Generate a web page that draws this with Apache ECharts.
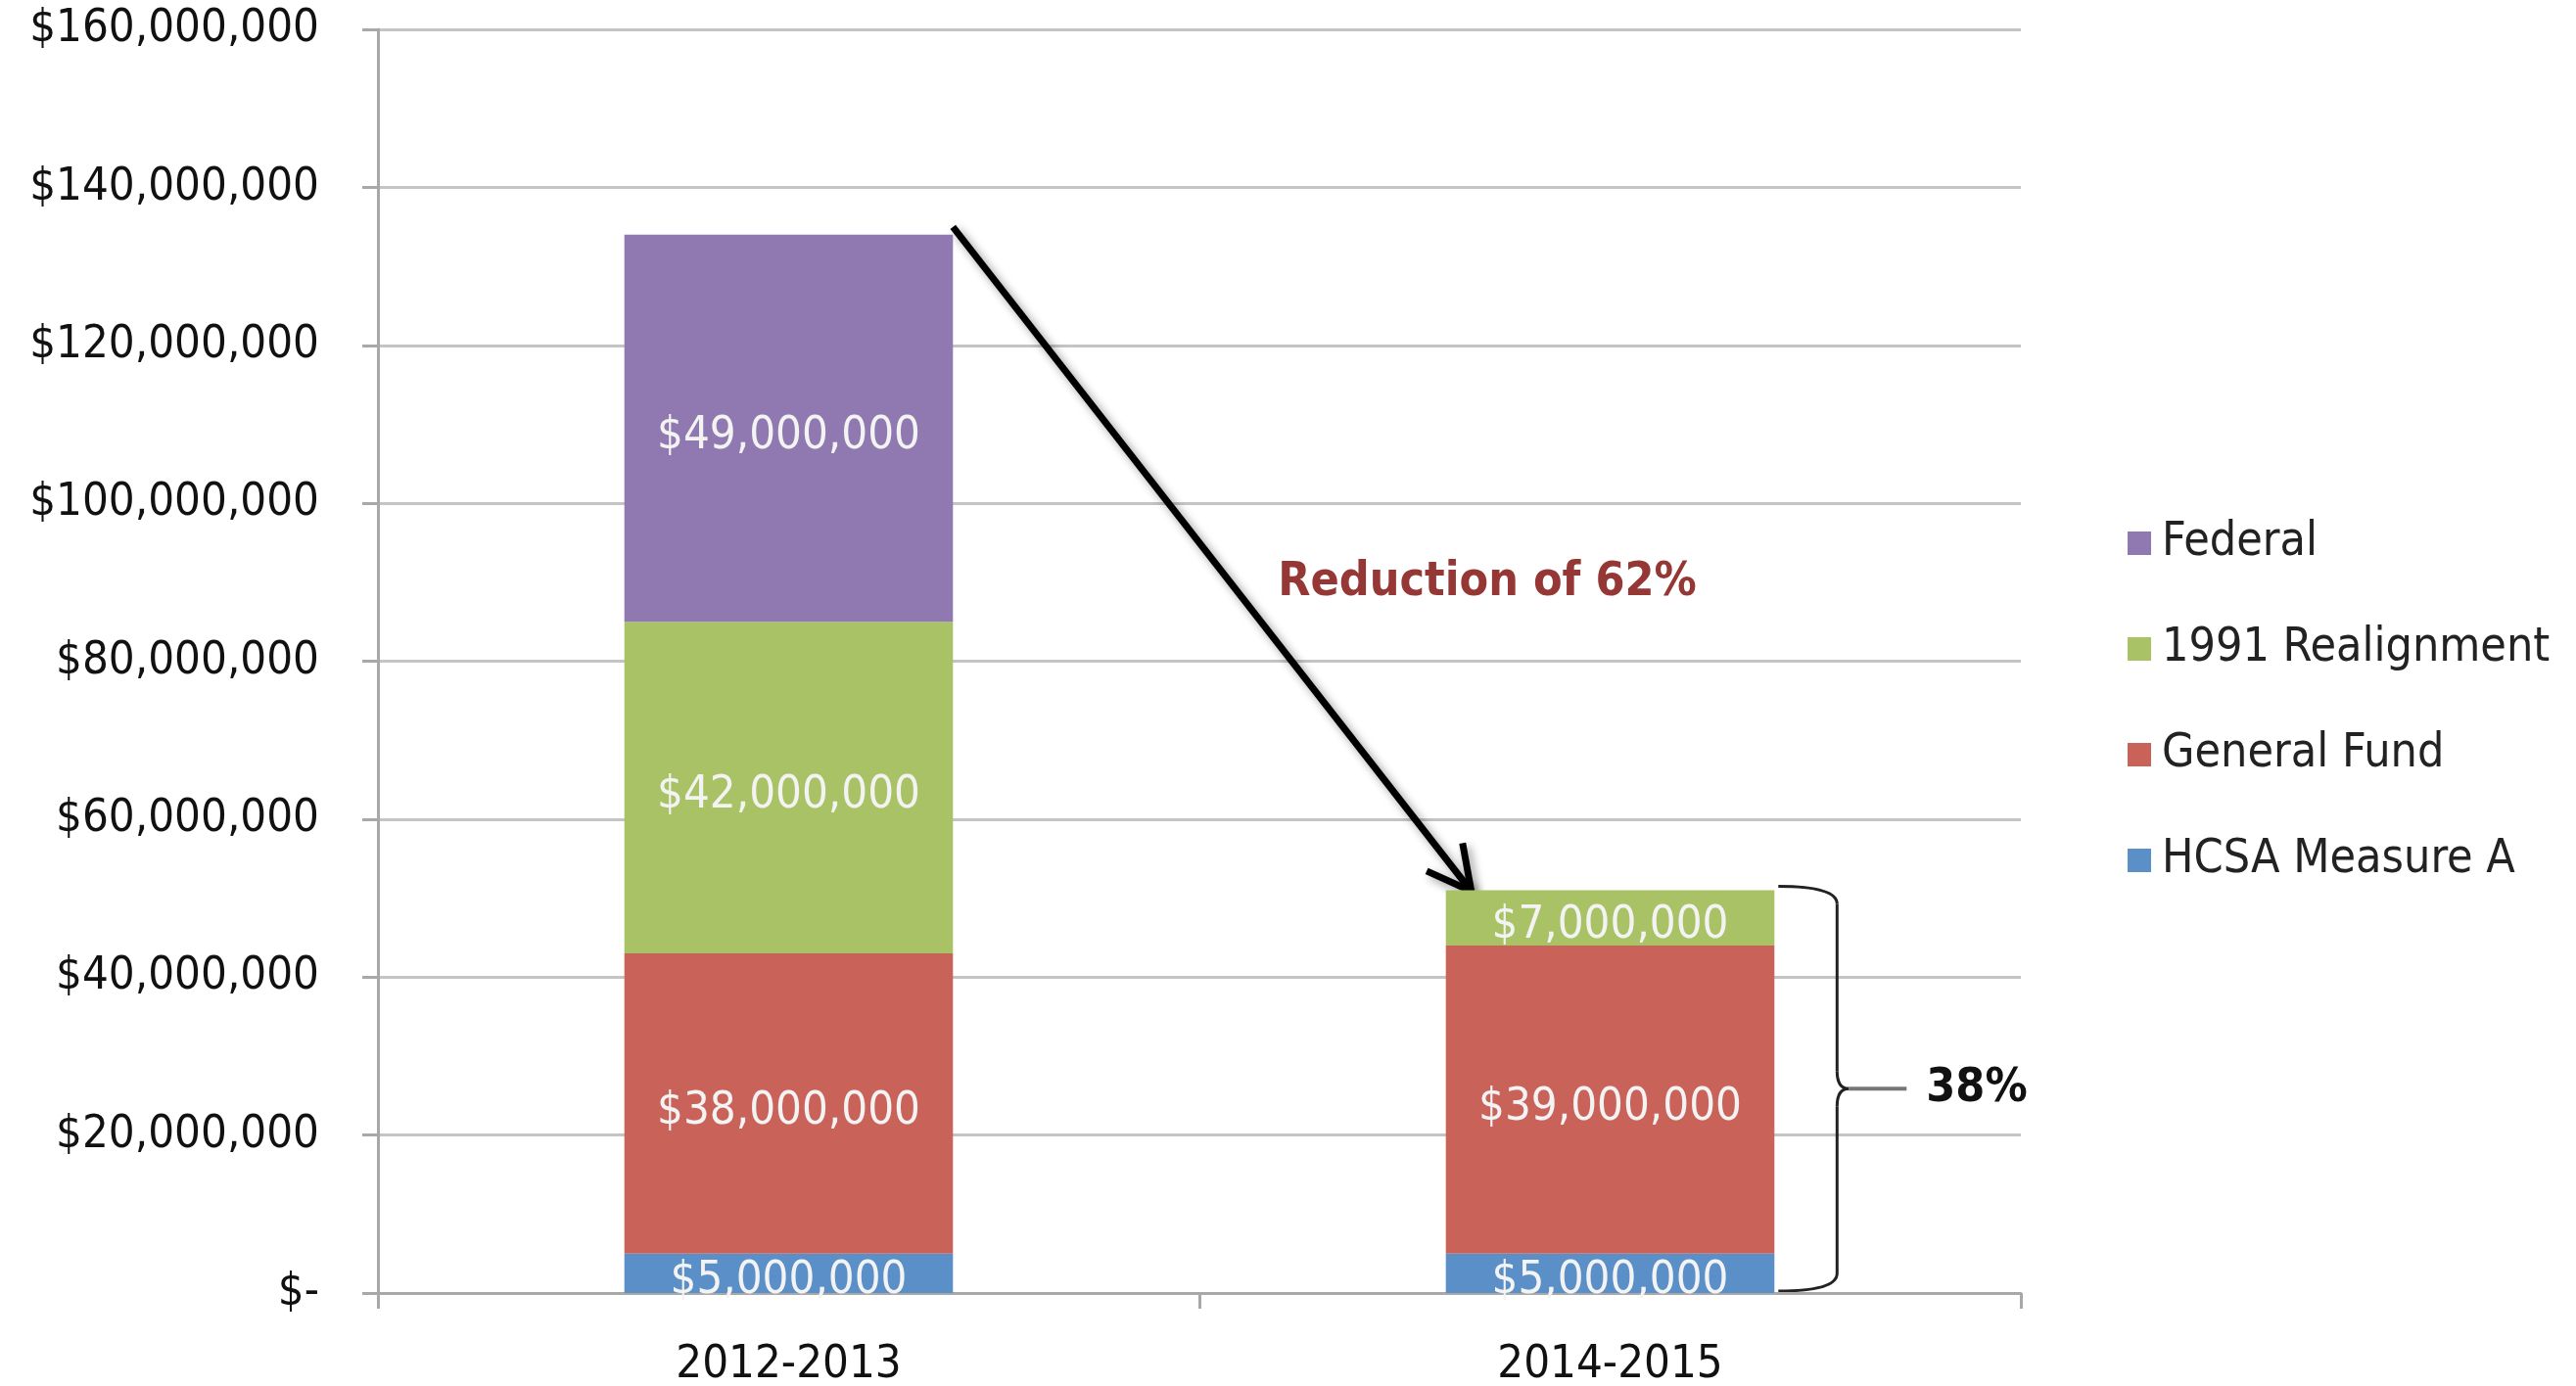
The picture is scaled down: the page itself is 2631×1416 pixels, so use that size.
<!DOCTYPE html>
<html>
<head>
<meta charset="utf-8">
<script src="https://cdn.jsdelivr.net/npm/echarts@6/dist/echarts.min.js"></script>
<style>
  html, body { margin: 0; padding: 0; background: #fff; }
  #chart { width: 2631px; height: 1416px; }
</style>
</head>
<body>
<div id="chart"></div>
<script>
var categories = ['2012-2013', '2014-2015'];
var hcsaMeasureA = [5000000, 5000000];
var generalFund = [38000000, 39000000];
var realignment1991 = [42000000, 7000000];
var federal = [49000000, '-'];
var legendOrder = ['Federal', '1991 Realignment', 'General Fund', 'HCSA Measure A'];

var FONT = "'DejaVu Sans Condensed', 'DejaVu Sans', sans-serif";

function money(v) {
    if (v === 0) return '$-';
    return '$' + Number(v).toLocaleString('en-US');
}

var chart = echarts.init(document.getElementById('chart'));

function barSeries(name, data, color) {
    return {
        name: name,
        type: 'bar',
        stack: 'total',
        barWidth: '40%',
        data: data,
        itemStyle: { color: color },
        label: {
            show: true,
            position: 'inside',
            offset: [0, 8],
            color: '#f3f3f3',
            fontFamily: FONT,
            fontSize: 47,
            formatter: function(p) { return money(p.value); }
        }
    };
}

var option = {
    animation: false,
    backgroundColor: '#ffffff',
    grid: { left: 386, right: 567, top: 30, bottom: 95, outerBoundsMode: 'none', containLabel: false },
    legend: {
        orient: 'vertical',
        left: 2168,
        top: 520,
        data: legendOrder,
        icon: 'rect',
        itemWidth: 24,
        itemHeight: 24,
        itemGap: 48,
        selectedMode: false,
        textStyle: {
            fontFamily: FONT,
            fontSize: 48,
            lineHeight: 60,
            color: '#222',
            padding: [0, 0, 0, 6]
        }
    },
    xAxis: {
        type: 'category',
        data: categories,
        axisLine: { lineStyle: { color: '#a8a8a8', width: 3 } },
        axisTick: { show: true, length: 16, lineStyle: { color: '#a8a8a8', width: 3 } },
        axisLabel: { color: '#111', fontFamily: FONT, fontSize: 47, margin: 50 }
    },
    yAxis: {
        type: 'value',
        min: 0,
        max: 160000000,
        interval: 20000000,
        axisLine: { show: true, lineStyle: { color: '#a8a8a8', width: 3 } },
        axisTick: { show: true, length: 16, lineStyle: { color: '#a8a8a8', width: 3 } },
        splitLine: { lineStyle: { color: '#c4c4c4', width: 3 } },
        axisLabel: { color: '#111', fontFamily: FONT, fontSize: 47, margin: 60, formatter: money }
    },
    series: [
        barSeries('HCSA Measure A', hcsaMeasureA, '#5b8fc8'),
        barSeries('General Fund', generalFund, '#c9635a'),
        barSeries('1991 Realignment', realignment1991, '#a9c266'),
        barSeries('Federal', federal, '#8f79b0')
    ]
};
chart.setOption(option);

// annotations anchored to the bars
function total(i) {
    var s = 0;
    [hcsaMeasureA, generalFund, realignment1991, federal].forEach(function(arr) {
        if (typeof arr[i] === 'number') s += arr[i];
    });
    return s;
}
var p0 = chart.convertToPixel({ gridIndex: 0 }, [0, total(0)]);
var p1 = chart.convertToPixel({ gridIndex: 0 }, [1, total(1)]);
var pZero = chart.convertToPixel({ gridIndex: 0 }, [1, 0]);
var halfBar = (p1[0] - p0[0]) * 0.4 / 2;

var sx = p0[0] + halfBar, sy = p0[1] - 8;
var tx = p1[0] - halfBar + 26, ty = p1[1] + 1;
var ang = Math.atan2(ty - sy, tx - sx);
var headLen = 50, spread = Math.PI / 6.5;
var h1 = [tx - headLen * Math.cos(ang - spread), ty - headLen * Math.sin(ang - spread)];
var h2 = [tx - headLen * Math.cos(ang + spread), ty - headLen * Math.sin(ang + spread)];

var bx0 = p1[0] + halfBar + 4;
var bx1 = p1[0] + halfBar + 64;
var yTop = p1[1] - 4, yBot = pZero[1] - 2;
var yMid = (yTop + yBot) / 2;
var r = 18;

var arrowStyle = {
    stroke: '#000',
    lineWidth: 7,
    lineCap: 'butt',
    shadowBlur: 10,
    shadowColor: 'rgba(0,0,0,0.4)',
    shadowOffsetX: 4,
    shadowOffsetY: 4
};
var braceStyle = { stroke: '#222', lineWidth: 3, fill: null };

chart.setOption({
    graphic: [
        { type: 'line', shape: { x1: sx, y1: sy, x2: tx, y2: ty }, style: arrowStyle },
        { type: 'line', shape: { x1: h1[0], y1: h1[1], x2: tx, y2: ty }, style: arrowStyle },
        { type: 'line', shape: { x1: h2[0], y1: h2[1], x2: tx, y2: ty }, style: arrowStyle },
        {
            type: 'text', x: 1519, y: 596,
            style: {
                text: 'Reduction of 62%', fill: '#953735', font: 'bold 48px ' + FONT,
                textAlign: 'center', textVerticalAlign: 'middle'
            }
        },
        // curly brace around the 2014-2015 column
        { type: 'bezierCurve', shape: { x1: bx0, y1: yTop, cpx1: bx1, cpy1: yTop, x2: bx1, y2: yTop + r }, style: braceStyle },
        { type: 'line', shape: { x1: bx1, y1: yTop + r, x2: bx1, y2: yMid - r }, style: braceStyle },
        { type: 'bezierCurve', shape: { x1: bx1, y1: yMid - r, cpx1: bx1, cpy1: yMid, x2: bx1 + 12, y2: yMid }, style: braceStyle },
        { type: 'bezierCurve', shape: { x1: bx1 + 12, y1: yMid, cpx1: bx1, cpy1: yMid, x2: bx1, y2: yMid + r }, style: braceStyle },
        { type: 'line', shape: { x1: bx1, y1: yMid + r, x2: bx1, y2: yBot - r }, style: braceStyle },
        { type: 'bezierCurve', shape: { x1: bx1, y1: yBot - r, cpx1: bx1, cpy1: yBot, x2: bx0, y2: yBot }, style: braceStyle },
        { type: 'line', shape: { x1: bx1 + 12, y1: yMid, x2: bx1 + 71, y2: yMid }, style: { stroke: '#777', lineWidth: 4 } },
        {
            type: 'text', x: bx1 + 91, y: yMid,
            style: {
                text: '38%', fill: '#111', font: 'bold 48px ' + FONT,
                textAlign: 'left', textVerticalAlign: 'middle'
            }
        }
    ]
});
</script>
</body>
</html>
